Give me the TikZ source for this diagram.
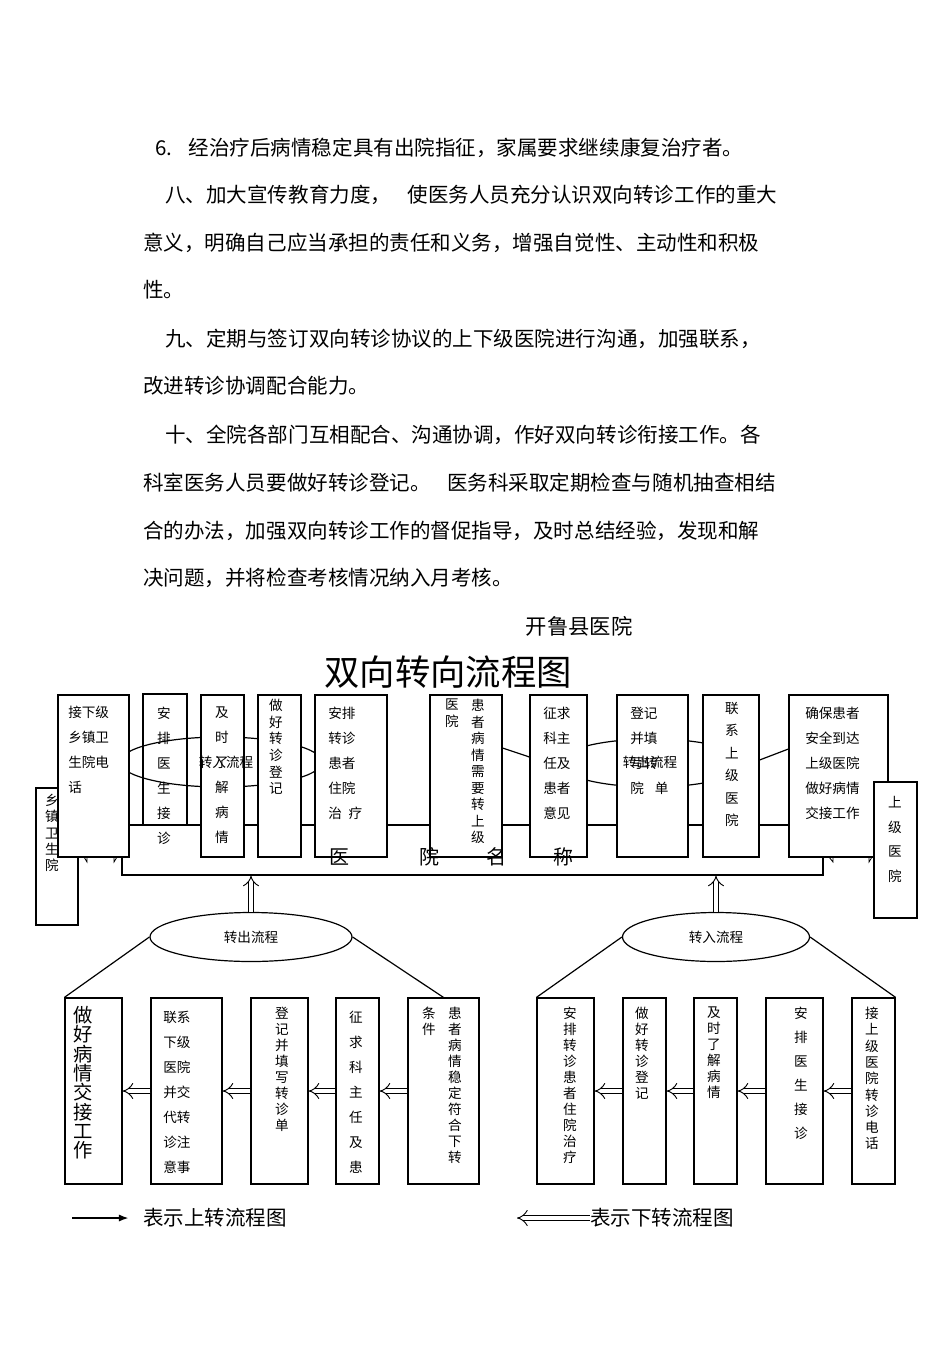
\documentclass[tikz,border=0pt]{standalone}
\usepackage{fontspec}
\setmainfont{Noto Sans CJK SC}
\usetikzlibrary{arrows.meta,positioning,fit,shapes.geometric}
\tikzset{box/.style={draw,fill=white,inner sep=0pt,line width=0.9pt}}
\tikzset{oval/.style={ellipse,draw,inner sep=0pt,line width=0.9pt,font=\fontsize{10.2}{12}\selectfont}}
\tikzset{rows/.style={anchor=north west,inner sep=0pt,align=left,font=\fontsize{10.2}{18.75}\selectfont}}
\tikzset{vcol/.style={anchor=north,inner sep=0pt,align=center,font=\fontsize{10.2}{#1}\selectfont},vcol/.default=12}
\tikzset{para/.style={anchor=west,inner sep=0pt,font=\fontsize{15.4}{18}\selectfont}}
\tikzset{lbl/.style={inner sep=0pt,font=\fontsize{10.2}{12}\selectfont}}
\tikzset{bigch/.style={inner sep=0pt,font=\fontsize{15}{18}\selectfont}}
\tikzset{link/.style={line width=0.9pt}}
\tikzset{hollow/.style={double,double distance=3.6pt,line width=0.7pt,-{Implies[scale=1.25]}}}

\begin{document}
\begin{tikzpicture}[x=0.75pt,y=-0.75pt]
\useasboundingbox (0,0) rectangle (950,1345);
% text above the chart
\node (p1) [para] at (155,148) {6.\hspace{0.8em}经治疗后病情稳定具有出院指征，家属要求继续康复治疗者。};
\node (p2) [para] at (165,195) {八、加大宣传教育力度，\hspace{0.8em}使医务人员充分认识双向转诊工作的重大};
\node (p3) [para] at (143,243) {意义，明确自己应当承担的责任和义务，增强自觉性、主动性和积极};
\node (p4) [para] at (143,290) {性。};
\node (p5) [para] at (165,339) {九、定期与签订双向转诊协议的上下级医院进行沟通，加强联系，};
\node (p6) [para] at (143,386) {改进转诊协调配合能力。};
\node (p7) [para] at (165,435) {十、全院各部门互相配合、沟通协调，作好双向转诊衔接工作。各};
\node (p8) [para] at (143,483) {科室医务人员要做好转诊登记。\hspace{0.8em}医务科采取定期检查与随机抽查相结};
\node (p9) [para] at (143,531) {合的办法，加强双向转诊工作的督促指导，及时总结经验，发现和解};
\node (p10) [para] at (143,578) {决问题，并将检查考核情况纳入月考核。};
\node (hosp) [inner sep=0pt,font=\fontsize{16}{18}\selectfont] at (579,626) {开鲁县医院};
\node (title) [inner sep=0pt,font=\fontsize{26.5}{30}\selectfont] at (448,672) {双向转向流程图};
%
% top row
\node (yy) [box,fill=none,fit={(122,825) (823,875)}] {};
\node (xz) [box,fit={(36,788) (78,925)}] {};
\node (xzx) [vcol=12.2] at (52,794) {乡\\镇\\卫\\生\\院};
\node (tin) [oval,minimum width=151.5pt,minimum height=37.5pt] at (221,762) {};
\node (tout) [oval,minimum width=139.5pt,minimum height=36pt] at (652,763) {};
\node (t1) [box,fit={(58,695) (129,857)}] {};
\node (t2) [box,fill=none,fit={(143,694) (187,825)}] {};
\node (t3) [box,fit={(201,695) (244,857)}] {};
\node (t4) [box,fit={(258,695) (301,857)}] {};
\node (t5) [box,fit={(315,695) (387,857)}] {};
\node (t6) [box,fit={(430,695) (502,857)}] {};
\node (t7) [box,fit={(530,695) (587,857)}] {};
\node (t8) [box,fit={(617,695) (688,857)}] {};
\node (t9) [box,fit={(703,695) (759,857)}] {};
\node (t10) [box,fit={(789,695) (888,857)}] {};
\node (sj) [box,fit={(874,782) (917,918)}] {};
\draw[link] (t6.east |- 0,748) -- (t7.west |- 0,757);
\draw[link] (t9.east |- 0,760) -- (t10.west |- 0,749);
\node (t1x) [rows] at (68,706) {接下级\\乡镇卫\\生院电\\话};
\node (t2x) [vcol=18.75] at (164,707) {安\\排\\医\\生\\接\\诊};
\node (t3x) [vcol=18.75] at (222,707) {及\\时\\了\\解\\病\\情};
\node (t4x) [vcol=12.45] at (276,699) {做\\好\\转\\诊\\登\\记};
\node (t5x) [rows] at (328,707) {安排\\转诊\\患者\\住院\\治\hspace{0.5em}疗};
\node (t6a) [vcol=12.4] at (452,699) {医\\院};
\node (t6b) [vcol=12.4] at (478,699) {患\\者\\病\\情\\需\\要\\转\\上\\级};
\node (t7x) [rows] at (543,707) {征求\\科主\\任及\\患者\\意见};
\node (t8x) [rows] at (630,707) {登记\\并填\\写转\\院\hspace{0.8em}单};
\node (t9x) [vcol=16.8] at (732,702) {联\\系\\上\\级\\医\\院};
\node (t10x) [rows] at (805,707) {确保患者\\安全到达\\上级医院\\做好病情\\交接工作};
\node (sjx) [vcol=18.4] at (895,796) {上\\级\\医\\院};
\node (tinl) [lbl] at (226,762) {转入流程};
\node (toutl) [lbl] at (650,762) {转出流程};
\node (yy1) [bigch] at (339,857) {医};
\node (yy2) [bigch] at (429,857) {院};
\node (yy3) [bigch] at (496,857) {名};
\node (yy4) [bigch] at (563,857) {称};
\draw[line width=0.6pt] (84,857) -- (87,862) -- (87,857);
\draw[line width=0.6pt] (117,857) -- (114,862) -- (114,857);
\draw[line width=0.6pt] (829,857) -- (833,862) -- (833,857);
\draw[line width=0.6pt] (872,857) -- (869,862) -- (869,857);
%
% bottom left: 转出
\node (eout) [oval,minimum width=151.5pt,minimum height=36.75pt] at (251,937) {转出流程};
\node (d1) [box,fit={(65,998) (122,1184)}] {};
\node (d2) [box,fit={(151,998) (222,1184)}] {};
\node (d3) [box,fit={(251,998) (308,1184)}] {};
\node (d4) [box,fit={(336,998) (379,1184)}] {};
\node (d5) [box,fit={(408,998) (479,1184)}] {};
\node (d1x) [vcol=14.5,font=\fontsize{14.5}{14.5}\selectfont] at (83,1006) {做\\好\\病\\情\\交\\接\\工\\作};
\node (d2x) [rows] at (163,1011) {联系\\下级\\医院\\并交\\代转\\诊注\\意事};
\node (d3x) [vcol] at (282,1007) {登\\记\\并\\填\\写\\转\\诊\\单};
\node (d4x) [vcol=18.75] at (356,1011) {征\\求\\科\\主\\任\\及\\患};
\node (d5a) [vcol=11.6] at (429,1007) {条\\件};
\node (d5b) [vcol] at (455,1007) {患\\者\\病\\情\\稳\\定\\符\\合\\下\\转};
%
% bottom right: 转入
\node (ein) [oval,minimum width=140.25pt,minimum height=36.75pt] at (716,937) {转入流程};
\node (u1) [box,fit={(537,998) (594,1184)}] {};
\node (u2) [box,fit={(623,998) (666,1184)}] {};
\node (u3) [box,fit={(694,998) (737,1184)}] {};
\node (u4) [box,fit={(766,998) (823,1184)}] {};
\node (u5) [box,fit={(852,998) (895,1184)}] {};
\node (u1x) [vcol] at (570,1007) {安\\排\\转\\诊\\患\\者\\住\\院\\治\\疗};
\node (u2x) [vcol] at (642,1007) {做\\好\\转\\诊\\登\\记};
\node (u3x) [vcol] at (714,1007) {及\\时\\了\\解\\病\\情};
\node (u4x) [vcol=18] at (801,1007) {安\\排\\医\\生\\接\\诊};
\node (u5x) [vcol=12.2] at (872,1007) {接\\上\\级\\医\\院\\转\\诊\\电\\话};
%
\draw[link] (eout.west) -- (d1.north west);
\draw[link] (eout.east) -- (d5.north);
\draw[link] (ein.west) -- (u1.north west);
\draw[link] (ein.east) -- (u5.north east);
\draw[hollow] (eout.north) -- (eout.north |- yy.south);
\draw[hollow] (ein.north) -- (ein.north |- yy.south);
\draw[hollow] (d5.west) -- (d4.east);
\draw[hollow] (d4.west) -- (d3.east);
\draw[hollow] (d3.west) -- (d2.east);
\draw[hollow] (d2.west) -- (d1.east);
\draw[hollow] (u5.west) -- (u4.east);
\draw[hollow] (u4.west) -- (u3.east);
\draw[hollow] (u3.west) -- (u2.east);
\draw[hollow] (u2.west) -- (u1.east);
%
% legend
\coordinate (upa) at (72,1218);
\coordinate (dna) at (517,1218);
\node (uptx) [para] at (143,1218) {表示上转流程图};
\node (dntx) [para] at (590,1218) {表示下转流程图};
\draw[line width=0.9pt,-{Latex}] (upa) -- ([xshift=-11pt]uptx.west);
\draw[hollow] (dntx.west) -- (dna);
\end{tikzpicture}
\end{document}
